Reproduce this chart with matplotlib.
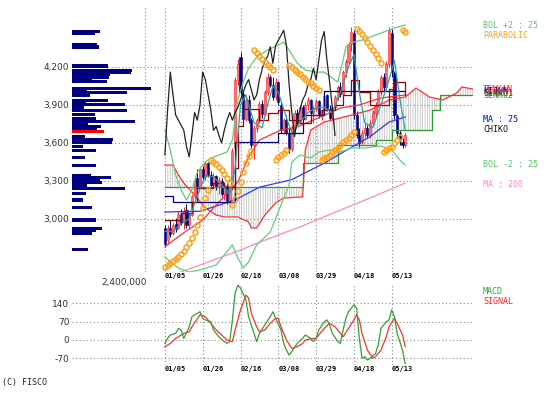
import matplotlib
matplotlib.use("Agg")
import matplotlib.pyplot as plt
import numpy as np

plt.rcParams['hatch.linewidth'] = 0.5

W, H = 557, 398

# ---------------- data ----------------
dates = ["01/05", "01/26", "02/16", "03/08", "03/29", "04/18", "05/13"]
date_days = [0, 14, 28, 42, 56, 70, 84]
price_ticks = [3000, 3300, 3600, 3900, 4200]
price_labels = ["3,000", "3,300", "3,600", "3,900", "4,200"]
macd_ticks = [-70, 0, 70, 140]

opens = [2930, 2830, 2930, 2890, 2960, 2930, 3040, 2980, 3070, 2950,
         3030, 3180, 3320, 3250, 3390, 3330, 3440, 3350, 3270, 3340,
         3260, 3300, 3200, 3260, 3150, 3240, 3560, 4100, 4280, 3990,
         3790, 3940, 3780, 3580, 3720, 3780, 3910, 3830, 4000, 4120,
         4060, 3960, 4080, 3900, 3700, 3780, 3680, 3550, 3720, 3840,
         3760, 3880, 3790, 3900, 3940, 3840, 3870, 3930, 3820, 3860,
         3980, 3870, 3800, 3880, 3960, 4040, 3990, 4160, 4240, 4380,
         4470, 3820, 3660, 3610, 3680, 3720, 3660, 3760, 3840, 3900,
         4000, 4120, 4040, 4220, 4470, 4150, 3810, 3680, 3610, 3580]
highs = [2950, 2950, 2990, 2970, 3010, 3060, 3080, 3090, 3120, 3050,
         3200, 3320, 3390, 3410, 3420, 3460, 3450, 3380, 3360, 3350,
         3330, 3320, 3290, 3280, 3250, 3560, 4120, 4260, 4320, 4010,
         3960, 3980, 3800, 3740, 3800, 3930, 3940, 4020, 4150, 4140,
         4120, 4110, 4090, 3920, 3800, 3820, 3720, 3740, 3860, 3870,
         3900, 3900, 3920, 3960, 3950, 3890, 3950, 3940, 3870, 3990,
         3990, 3900, 3900, 3980, 4060, 4080, 4180, 4260, 4400, 4520,
         4490, 3850, 3720, 3700, 3760, 3740, 3780, 3860, 3920, 4030,
         4140, 4150, 4250, 4520, 4500, 4170, 3830, 3700, 3640, 3680]
lows = [2780, 2810, 2860, 2870, 2900, 2920, 2950, 2920, 2930, 2930,
        3020, 3160, 3220, 3240, 3300, 3310, 3330, 3250, 3250, 3230,
        3200, 3180, 3150, 3120, 3110, 3230, 3550, 4060, 3980, 3760,
        3770, 3760, 3560, 3470, 3690, 3760, 3800, 3810, 3980, 4040,
        3940, 3940, 3900, 3680, 3680, 3660, 3520, 3540, 3700, 3740,
        3750, 3770, 3780, 3860, 3820, 3760, 3850, 3800, 3780, 3840,
        3850, 3780, 3780, 3860, 3940, 3960, 3980, 4120, 4220, 4330,
        3790, 3640, 3560, 3590, 3650, 3640, 3640, 3740, 3800, 3880,
        3980, 4010, 4020, 4200, 4120, 3790, 3640, 3580, 3560, 3570]
closes = [2800, 2930, 2880, 2950, 2920, 3040, 2970, 3060, 2950, 3030,
          3180, 3300, 3240, 3390, 3330, 3440, 3350, 3270, 3340, 3250,
          3310, 3200, 3270, 3140, 3230, 3540, 4100, 4220, 4000, 3790,
          3940, 3780, 3580, 3720, 3780, 3910, 3830, 4000, 4120, 4060,
          3960, 4080, 3920, 3700, 3780, 3680, 3550, 3720, 3840, 3760,
          3880, 3790, 3900, 3940, 3840, 3870, 3930, 3820, 3860, 3970,
          3870, 3800, 3880, 3960, 4040, 3990, 4160, 4240, 4380, 4480,
          3820, 3660, 3600, 3680, 3720, 3660, 3760, 3840, 3900, 4000,
          4120, 4040, 4220, 4490, 4160, 3820, 3680, 3620, 3580, 3660]

psar_vals = [2620, 2636, 2651, 2667, 2683, 2699, 2722, 2746, 2778, 2809, 2849, 2896, 2952, 3015, 3086, 3165, 3228,
             3465, 3449, 3433, 3410, 3386, 3354, 3323, 3283,
             3110, 3160, 3220, 3290, 3370, 3440, 3500, 3540,
             4334, 4310, 4287, 4263, 4239, 4216, 4200, 4176,
             3465, 3489, 3505, 3520, 3544,
             4215, 4200, 4176, 4160, 4144, 4121, 4105, 4081, 4073, 4050, 4034, 4018,
             3465, 3481, 3489, 3505, 3528, 3544, 3560, 3584, 3607, 3623, 3639, 3663, 3686,
             4500, 4484, 4460, 4429, 4397, 4366, 4334, 4302, 4271, 4231,
             3528, 3544, 3560, 3568, 3599, 3623, 3647,
             4492, 4476]

bol_up_days = [0, 2, 4, 6, 8, 10, 12, 15, 17, 20, 23, 25, 27, 29, 31, 34, 38, 42, 44, 46,
               49, 52, 56, 59, 61, 64, 66, 67, 70, 73, 77, 81, 85, 89]
bol_up_vals = [3702, 3544, 3346, 3228, 3149, 3228, 3370, 3449, 3481, 3505, 3528, 3623, 3939, 4081,
               4192, 4279, 4334, 4374, 4397, 4334, 4231, 4176, 4160, 4160, 4129, 4081, 4255, 4358,
               4397, 4413, 4445, 4476, 4508, 4532]
bol_dn_days = [0, 2, 5, 9, 13, 19, 22, 25, 27, 29, 31, 34, 39, 43, 46, 47, 50, 54, 57, 61, 65,
               69, 74, 80, 84, 87, 89]
bol_dn_vals = [2700, 2660, 2612, 2580, 2596, 2636, 2715, 2794, 2691, 2612, 2659, 2794, 2896, 3110,
               3268, 3449, 3505, 3481, 3528, 3544, 3528, 3560, 3560, 3576, 3544, 3465, 3425]

tenkan_days = [0, 6, 10, 12, 18, 22, 26, 27, 29, 35, 38, 42, 46, 50, 54, 58, 63, 66, 69, 72, 76,
               80, 83, 85, 89]
tenkan_vals = [2990, 3050, 3130, 3240, 3280, 3250, 3400, 3730, 3870, 3780, 3840, 3860, 3780, 3760,
               3820, 3860, 3900, 3980, 4100, 4000, 3900, 3900, 4030, 4080, 3980]
kijun_days = [0, 3, 26, 42, 51, 59, 89]
kijun_vals = [3180, 3130, 3610, 3680, 3820, 4010, 4010]
senko1_days = [0, 3, 5, 7, 11, 15, 19, 22, 27, 31, 32, 34, 37, 41, 44, 51, 52, 54, 59, 69, 76,
               83, 89, 93, 98, 103, 108, 110, 114]
senko1_vals = [3425, 3425, 3347, 3283, 3189, 3086, 3030, 3015, 3015, 2975, 2928, 2928, 3030, 3125,
               3165, 3173, 3544, 3702, 3765, 3820, 3860, 3939, 3963, 4034, 3963, 3939, 3994, 4042, 4026]
senko2_days = [0, 51, 64, 78, 84, 99, 102, 114]
senko2_vals = [3252, 3441, 3584, 3623, 3702, 3860, 3979, 3979]

chiko_vals = [3505, 3860, 4160, 3980, 3820, 3780, 3740, 3700, 3570, 3490,
              3660, 3840, 3780, 3900, 4160, 4100, 3980, 3860, 3700, 3730,
              3660, 3600, 3700, 3780, 3840, 3780, 3840, 3880, 3940, 4000,
              4060, 4100, 4020, 3940, 3980, 4100, 4180, 4255, 4280, 4360,
              4230, 4370, 4410, 4450, 4490, 4370, 4060, 3840, 3650, 3780,
              3860, 3940, 3980, 4060, 4100, 4190, 4100, 4255, 4410, 4480,
              4255, 4080, 3880, 3660]

ma5_days = [0, 3, 6, 9, 12, 15, 18, 21, 24, 26, 28, 30, 33, 36, 38, 40, 42, 45, 47, 50, 53, 56,
            59, 62, 65, 68, 70, 72, 74, 77, 80, 83, 85, 87, 89]
ma5_vals = [2900, 2900, 2960, 3000, 3180, 3340, 3330, 3270, 3200, 3400, 3900, 3980, 3760, 3720,
            3900, 4050, 4000, 3800, 3680, 3760, 3840, 3880, 3880, 3840, 4000, 4200, 4300, 4000,
            3760, 3720, 3900, 4100, 4250, 3950, 3700]
ma25_days = [0, 7, 14, 18, 27, 31, 35, 43, 49, 57, 65, 72, 80, 89]
ma25_vals = [2780, 2890, 2990, 3086, 3291, 3489, 3623, 3702, 3726, 3800, 3876, 3900, 3955, 3979]
ma75_days = [0, 13, 26, 35, 47, 59, 67, 76, 83, 89]
ma75_vals = [3054, 3060, 3150, 3250, 3310, 3440, 3540, 3650, 3765, 3805]
ma200_days = [0, 6, 13, 28, 39, 50, 65, 76, 89]
ma200_vals = [2540, 2580, 2635, 2754, 2849, 2936, 3070, 3165, 3283]

vp_prices = [4484, 4468, 4381, 4358, 4208, 4176, 4155, 4137, 4118, 4102, 4084, 4031, 4018, 3997,
             3971, 3939, 3921, 3900, 3881, 3855, 3821, 3794, 3768, 3749, 3728, 3712, 3694, 3649,
             3628, 3602, 3570, 3539, 3486, 3423, 3339, 3323, 3307, 3286, 3265, 3241, 3202, 3149,
             3091, 2991, 2925, 2906, 2886, 2759]
vp_vols = [840000, 690000, 750000, 810000, 1090000, 1810000, 1760000, 1130000, 1110000, 610000,
           1060000, 2360000, 460000, 1660000, 530000, 1080000, 410000, 1580000, 360000, 1660000,
           680000, 730000, 1890000, 480000, 880000, 740000, 960000, 390000, 1230000, 1190000,
           330000, 730000, 390000, 730000, 580000, 1160000, 830000, 910000, 460000, 1580000,
           430000, 330000, 610000, 730000, 910000, 730000, 610000, 490000]
vp_current = 3694
vp_max_label = "2,400,000"
vp_scale_max = 2400000

macd_days = [0, 1, 2, 4, 5, 6, 7, 9, 10, 11, 13, 14, 15, 17, 18, 20, 22, 23, 24, 25, 26, 27, 28,
             30, 31, 33, 34, 35, 37, 39, 40, 41, 43, 44, 45, 46, 47, 49, 51, 52, 54, 55, 56, 57,
             59, 60, 61, 62, 64, 65, 66, 67, 68, 70, 71, 72, 73, 74, 75, 76, 78, 79, 80, 82, 83,
             84, 85, 86, 88, 89]
macd_vals = [-13, 6, 19, 25, 44, 38, 6, 50, 88, 95, 107, 82, 76, 69, 38, 12, -6, -13, -6, 76,
             177, 208, 196, 152, 88, 25, -6, 25, 57, 88, 107, 82, 38, -13, -38, -57, -44, -13, 6,
             19, 6, -6, 6, 38, 69, 76, 57, 25, -6, -13, 38, 82, 107, 133, 120, 6, -69, -63, -76,
             -69, -51, -19, 44, 69, 76, 114, 88, 25, -38, -90]
signal_days = [0, 2, 4, 7, 9, 10, 13, 15, 17, 19, 21, 23, 25, 26, 28, 30, 31, 32, 34, 35, 37, 39,
               41, 42, 43, 45, 47, 49, 51, 52, 55, 56, 57, 59, 61, 63, 65, 66, 68, 70, 71, 72, 73,
               75, 77, 78, 80, 82, 83, 85, 86, 88, 89]
signal_vals = [-25, -13, 6, 25, 31, 50, 95, 88, 63, 38, 19, 0, -6, 38, 114, 170, 158, 101, 50, 31,
               38, 63, 82, 82, 50, 0, -32, -25, -13, 0, 6, 6, 19, 44, 63, 50, 25, 12, 44, 76, 95,
               76, 25, -38, -69, -63, -38, 12, 50, 82, 63, 19, -25]

# ---------------- layout helpers ----------------
def rect(l, t, r, b):
    return [l / W, 1 - b / H, (r - l) / W, (b - t) / H]

def fx(px):
    return px / W

def fy(py):
    return 1 - py / H

X_LEFT, X_RIGHT = -34.4, 114.1
GRID = dict(color='#8a8a8a', lw=0.8, linestyle=(0, (1, 2.2)))
MONO = 'DejaVu Sans Mono'

fig = plt.figure(figsize=(W / 100, H / 100), dpi=100, facecolor='white')

# ---------------- main price panel ----------------
ax = fig.add_axes(rect(72, 6, 473, 272), facecolor='none')
ax.set_xlim(X_LEFT, X_RIGHT)
ax.set_ylim(2580, 4682)
for s in ax.spines.values():
    s.set_visible(False)
ax.set_yticks(price_ticks)
ax.set_yticklabels(price_labels, fontsize=6.5, color='#333333')
ax.set_xticks(date_days)
ax.set_xticklabels(dates, fontsize=5, family=MONO, fontweight='bold', ha='left')
ax.tick_params(length=0, pad=2)
ax.tick_params(axis='x', pad=1)
ax.grid(True, **GRID)
ax.set_axisbelow(True)
ax.axvline(-7.4, **GRID)

# cloud
grid = np.linspace(0, senko1_days[-1], 1200)
s1 = np.interp(grid, senko1_days, senko1_vals)
idx = np.clip(np.searchsorted(senko2_days, grid, side='right') - 1, 0, None)
s2 = np.asarray(senko2_vals)[idx]
ax.fill_between(grid, s1, s2, facecolor='none', edgecolor='#b5b5b5', hatch='|||||||', lw=0, zorder=1)

# candles
days = np.arange(len(closes))
o = np.asarray(opens); hh = np.asarray(highs); ll = np.asarray(lows); c = np.asarray(closes)
up = c >= o
ax.vlines(days[up], ll[up], hh[up], color='#ff2020', lw=0.7, zorder=3)
ax.vlines(days[~up], ll[~up], hh[~up], color='#000080', lw=0.7, zorder=3)
ax.bar(days[up], (c - o)[up], bottom=o[up], width=0.8, color='#ff7070', edgecolor='#ff2020', lw=0.4, zorder=3)
ax.bar(days[~up], (o - c)[~up], bottom=c[~up], width=0.8, color='#000080', edgecolor='#000080', lw=0.4, zorder=3)

# indicator lines
ax.plot(senko1_days, senko1_vals, color='#ff3030', lw=0.9, zorder=4)
ax.plot(senko2_days, senko2_vals, color='#2e9a2e', lw=0.9, drawstyle='steps-post', zorder=4)
ax.plot(ma200_days, ma200_vals, color='#ff88c8', lw=0.9, zorder=4)
ax.plot(ma75_days, ma75_vals, color='#3333ff', lw=0.9, zorder=4)
ax.plot(ma25_days, ma25_vals, color='#ff3030', lw=0.9, zorder=4)
ax.plot(kijun_days, kijun_vals, color='#000080', lw=0.9, drawstyle='steps-post', zorder=4)
ax.plot(tenkan_days, tenkan_vals, color='#990000', lw=0.9, drawstyle='steps-post', zorder=4)
ax.plot(ma5_days, ma5_vals, color='#2aa0a0', lw=0.9, zorder=4)
ax.plot(bol_up_days, bol_up_vals, color='#66cc77', lw=0.9, zorder=4)
ax.plot(bol_dn_days, bol_dn_vals, color='#66cc77', lw=0.9, zorder=4)
ax.plot(np.arange(len(chiko_vals)), chiko_vals, color='#222222', lw=0.9, zorder=4)
ax.plot(days, psar_vals, 'o', mfc='none', mec='#ffa21a', ms=3.6, mew=1.1, zorder=5)

# volume profile
vax = fig.add_axes(rect(72, 6, 152, 272), facecolor='none')
vax.set_ylim(ax.get_ylim())
vax.set_xlim(0, vp_scale_max)
vcols = ['#ff0000' if p == vp_current else '#000080' for p in vp_prices]
vax.barh(vp_prices, vp_vols, height=24, color=vcols, lw=0)
vax.axis('off')

# ---------------- MACD panel ----------------
mx = fig.add_axes(rect(72, 284, 473, 365), facecolor='none')
mx.set_xlim(X_LEFT, X_RIGHT)
mx.set_ylim(-94.6, 211.9)
for s in mx.spines.values():
    s.set_visible(False)
mx.set_yticks(macd_ticks)
mx.set_yticklabels([str(v) for v in macd_ticks], fontsize=6.5, color='#333333')
mx.set_xticks(date_days)
mx.set_xticklabels(dates, fontsize=5, family=MONO, fontweight='bold', ha='left')
mx.tick_params(length=0, pad=2)
mx.tick_params(axis='x', pad=1)
mx.grid(True, **GRID)
mx.set_axisbelow(True)
mx.plot(signal_days, signal_vals, color='#ff3030', lw=0.9, zorder=3)
mx.plot(macd_days, macd_vals, color='#33a033', lw=0.9, zorder=4)

# ---------------- texts ----------------
def t(px, py, s, col, **kw):
    fig.text(fx(px), fy(py), s, color=col, fontsize=6, family=MONO, va='center', **kw)

t(483, 26, "BOL +2 : 25", '#55cc66')
t(483, 35, "PARABOLIC", '#ffa21a')
t(483, 90, "TENKAN", '#ff2020')
t(483, 92, "KIJUN", '#000080')
t(483, 94, "SENKO1", '#990000')
t(483, 96, "SENKO2", '#2e9a2e')
t(483, 119, "MA : 25", '#2aa0a0')
t(483, 119, "MA : 75", '#3333ff')
t(483, 130, "CHIKO", '#111111')
t(483, 165, "BOL -2 : 25", '#55cc66')
t(483, 185, "MA : 200", '#ff88c8')
t(483, 291, "MACD", '#33a033')
t(483, 301, "SIGNAL", '#ff2020')

fig.text(fx(147), fy(282), vp_max_label, fontsize=6.5, color='#333333', ha='right', va='center')
fig.text(fx(2), fy(383), "(C) FISCO", fontsize=6, family=MONO, color='#222222', ha='left', va='center')

fig.savefig("out.png", dpi=100, facecolor='white')
